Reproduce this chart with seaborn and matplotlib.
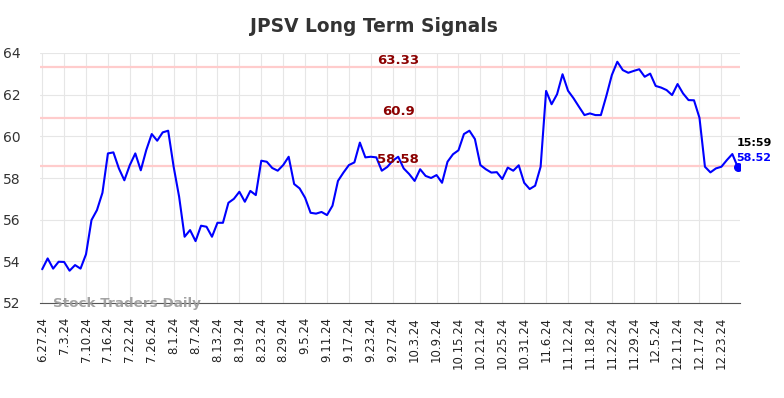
import numpy as np
import pandas as pd
import matplotlib
matplotlib.use('Agg')
import matplotlib.pyplot as plt
import seaborn as sns

# closing prices, one per trading day (6.27.24 .. 12.27.24)
prices = [
    53.62, 54.14, 53.65, 53.98, 53.97, 53.55, 53.82, 53.65, 54.34, 55.98,
    56.46, 57.29, 59.18, 59.23, 58.46, 57.89, 58.62, 59.18, 58.37, 59.34,
    60.11, 59.79, 60.19, 60.27, 58.54, 57.10, 55.18, 55.50, 54.97, 55.71,
    55.66, 55.18, 55.85, 55.85, 56.81, 57.00, 57.34, 56.86, 57.38, 57.18,
    58.83, 58.78, 58.48, 58.35, 58.62, 59.02, 57.71, 57.50, 57.05, 56.33,
    56.29, 56.37, 56.22, 56.67, 57.86, 58.26, 58.62, 58.75, 59.70, 58.99,
    59.02, 58.99, 58.35, 58.53, 58.83, 59.02, 58.46, 58.19, 57.86, 58.42,
    58.10, 58.00, 58.14, 57.77, 58.78, 59.14, 59.33, 60.11, 60.27, 59.87,
    58.62, 58.42, 58.26, 58.28, 57.95, 58.50, 58.35, 58.61, 57.77, 57.47,
    57.63, 58.54, 62.18, 61.54, 62.02, 62.98, 62.19, 61.83, 61.42, 61.02,
    61.10, 61.02, 61.02, 61.94, 62.94, 63.58, 63.18, 63.05, 63.14, 63.22,
    62.86, 63.01, 62.42, 62.34, 62.22, 61.98, 62.51, 62.06, 61.74, 61.73,
    60.89, 58.54, 58.27, 58.46, 58.54, 58.86, 59.15, 58.52,
]

tick_labels = [
    '6.27.24', '7.3.24', '7.10.24', '7.16.24', '7.22.24', '7.26.24', '8.1.24', '8.7.24',
    '8.13.24', '8.19.24', '8.23.24', '8.29.24', '9.5.24', '9.11.24', '9.17.24', '9.23.24',
    '9.27.24', '10.3.24', '10.9.24', '10.15.24', '10.21.24', '10.25.24', '10.31.24', '11.6.24',
    '11.12.24', '11.18.24', '11.22.24', '11.29.24', '12.5.24', '12.11.24', '12.17.24', '12.23.24',
]

signal_levels = [63.33, 60.9, 58.58]
last_time = '15:59'

df = pd.DataFrame({'day': np.arange(len(prices)), 'price': prices})

sns.set_style('whitegrid', {'grid.color': '#e6e6e6', 'axes.edgecolor': '#555555'})
plt.rcParams['font.family'] = ['DejaVu Sans']

fig = plt.figure(figsize=(7.84, 3.98), dpi=100)
ax = fig.add_axes([40 / 784, 1 - 303 / 398, 700 / 784, 250 / 398])

for lvl in signal_levels:
    ax.axhline(lvl, color='#ffcccc', lw=1.6, zorder=1)
    ax.text(65, lvl + 0.0, f'{lvl:g}', color='#8b0000', fontsize=9.5,
            fontweight='bold', ha='center', va='bottom', zorder=4)

sns.lineplot(data=df, x='day', y='price', ax=ax, color='#0000ff', lw=1.5, zorder=3)

last = df.iloc[-1]
ax.scatter([last['day']], [last['price']], s=30, color='#0000ff', zorder=5)
ax.annotate(last_time, (last['day'], last['price']), xytext=(-1, 14), textcoords='offset points',
            fontsize=8, fontweight='bold', color='black', ha='left', va='bottom')
ax.annotate(f"{last['price']:.2f}", (last['day'], last['price']), xytext=(-1, 3),
            textcoords='offset points', fontsize=8, fontweight='bold', color='#0000ff',
            ha='left', va='bottom')

ax.text(2, 52, 'Stock Traders Daily', color='#999999', fontsize=9.7, fontweight='bold',
        ha='left', va='center', alpha=0.9, zorder=6)

ax.set_xlim(-0.4, 127.4)
ax.set_ylim(52, 64)
ax.set_yticks(range(52, 65, 2))
ax.set_xticks(range(0, len(prices), 4))
ax.set_xticklabels(tick_labels, rotation=90)
ax.tick_params(axis='x', labelsize=8.5, colors='#222222', pad=10, length=0)
ax.tick_params(axis='y', labelsize=10, colors='#333333', pad=14, length=0)
ax.set_xlabel('')
ax.set_ylabel('')
for side in ('left', 'top', 'right'):
    ax.spines[side].set_visible(False)
ax.spines['bottom'].set_color('#555555')

fig.text(374 / 784, 1 - 26 / 398, 'JPSV Long Term Signals', fontsize=13.4, fontweight='bold',
         color='#333333', ha='center', va='center')

fig.savefig('out.png', dpi=100)
